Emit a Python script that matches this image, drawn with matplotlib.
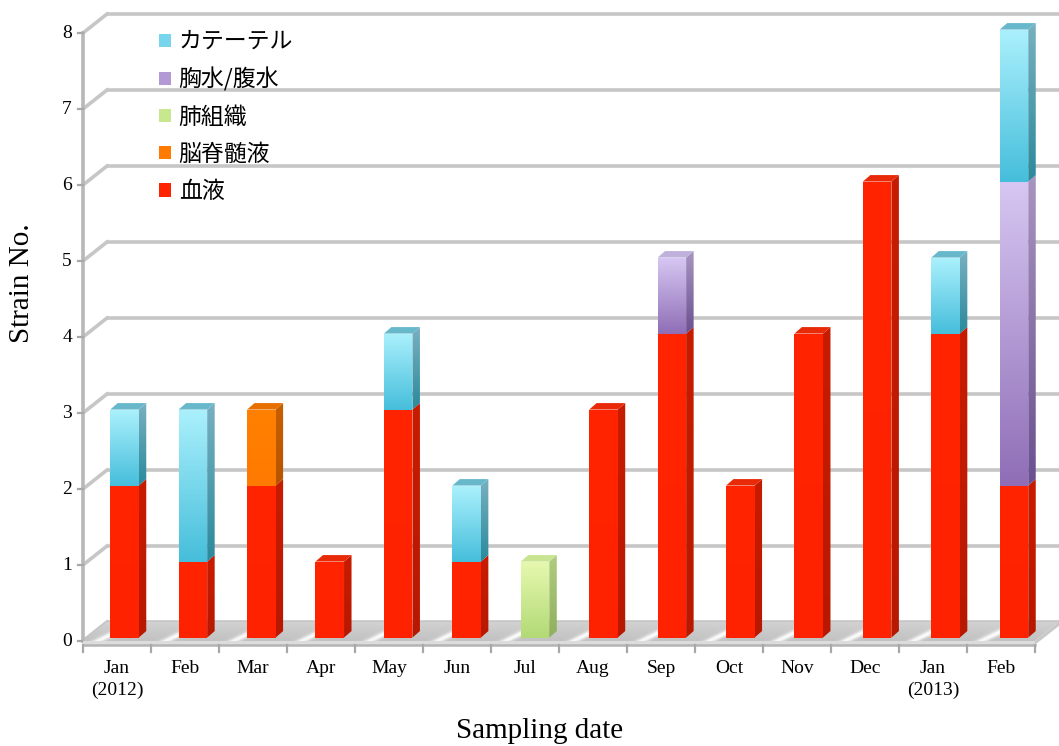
import numpy as np
import matplotlib
matplotlib.use("Agg")
import matplotlib.pyplot as plt
from matplotlib.patches import Polygon, Patch
from matplotlib.colors import to_rgb

# ---- data -------------------------------------------------------------
months = ["Jan\n(2012)", "Feb", "Mar", "Apr", "May", "Jun", "Jul",
          "Aug", "Sep", "Oct", "Nov", "Dec", "Jan\n(2013)", "Feb"]
blood = [2, 1, 2, 1, 3, 1, 0, 3, 4, 2, 4, 6, 4, 2]          # 血液
csf = [0, 0, 1, 0, 0, 0, 0, 0, 0, 0, 0, 0, 0, 0]            # 脳脊髄液
lung = [0, 0, 0, 0, 0, 0, 1, 0, 0, 0, 0, 0, 0, 0]           # 肺組織
pleural = [0, 0, 0, 0, 0, 0, 0, 0, 1, 0, 0, 0, 0, 4]        # 胸水/腹水
catheter = [1, 2, 0, 0, 1, 1, 0, 0, 0, 0, 0, 0, 1, 2]       # カテーテル
series_names = ["血液", "脳脊髄液", "肺組織", "胸水/腹水", "カテーテル"]
y_ticks = [0, 1, 2, 3, 4, 5, 6, 7, 8]

series = [blood, csf, lung, pleural, catheter]

# face colours: (front top, front bottom, side top, side bottom, top)
styles = [
    ("#ff2400", "#ff2200", "#c81c00", "#b81800", "#e82a08"),
    ("#ff8000", "#ff7a00", "#c86000", "#b85400", "#e87000"),
    ("#e6f8ae", "#b2da76", "#b0cc80", "#90b05c", "#c8e490"),
    ("#d6c6f2", "#8f6eb6", "#a894c0", "#6a5090", "#c0b0dc"),
    ("#aaf0fc", "#46bedb", "#78b0c0", "#2a8a9c", "#68b8cc"),
]
legend_colors = ["#ff2400", "#ff7a00", "#c8e890", "#b49ad4", "#78d6ec"]

CJK = ["Noto Sans CJK JP", "DejaVu Sans"]
SERIF = ["Liberation Serif", "DejaVu Serif"]

fig = plt.figure(figsize=(10.59, 7.46), dpi=100)
ax = fig.add_axes([0, 0, 1, 1])
ax.set_axis_off()

# pixel-calibrated data frame: one category = 68 px, one unit = 76 px
XL, XR = -83 / 68, (1059 - 83) / 68
YB, YT = -(746 - 641) / 76, 641 / 76
GX, GY = 24 / 68, 19 / 76            # depth of the walls
BX, BY = 7.5 / 68, 6.5 / 76          # depth of each bar
BAR_W = 0.42
BASE = 0.045
n = len(months)


def grad_poly(verts, top, bot, zorder):
    poly = Polygon(verts, closed=True, facecolor="none", edgecolor="none",
                   zorder=zorder)
    ax.add_patch(poly)
    xs = [v[0] for v in verts]
    ys = [v[1] for v in verts]
    t = np.linspace(0, 1, 64)[:, None, None]
    arr = np.array(to_rgb(bot))[None, None, :] * (1 - t) + \
        np.array(to_rgb(top))[None, None, :] * t
    im = ax.imshow(arr, extent=(min(xs), max(xs), min(ys), max(ys)),
                   origin="lower", aspect="auto", interpolation="bilinear",
                   zorder=zorder)
    im.set_clip_path(poly)


# ---- walls and grid -----------------------------------------------------
grid_c = "#c6c6c6"
for k in y_ticks:
    ax.plot([GX, n + GX], [k + GY, k + GY], color=grid_c, lw=2.6,
            solid_capstyle="butt", zorder=1)
    ax.plot([0, GX], [k, k + GY], color=grid_c, lw=2.6, zorder=1)
ax.plot([0, 0], [0, y_ticks[-1]], color="#b8b8b8", lw=2.6, zorder=2)
for k in y_ticks:
    ax.plot([-5 / 68, 0], [k, k], color="#a8a8a8", lw=1.6, zorder=2)
    ax.text(-11 / 68, k, str(k), ha="right", va="center", fontsize=14,
            family=SERIF, color="black")

# floor with soft diagonal sheen between bars
floor = [(0, 0.0), (n, 0.0), (n + GX, GY), (GX, GY)]
fp = Polygon(floor, closed=True, facecolor="none", edgecolor="none", zorder=2)
ax.add_patch(fp)
xx = np.linspace(0, n + GX, 1400)
yy = np.linspace(0, GY, 30)
X, Y = np.meshgrid(xx, yy)
U = X - (Y / GY) * GX * 1.6
d = (U - np.floor(U)) - 0.22
shade = 0.76 + 0.22 * np.exp(-(d / 0.09) ** 2) + 0.06 * (Y / GY)
floor_img = np.clip(np.dstack([shade, shade, shade]), 0, 1)
im = ax.imshow(floor_img, extent=(0, n + GX, 0, GY), origin="lower",
               aspect="auto", interpolation="bilinear", zorder=2)
im.set_clip_path(fp)
ax.add_patch(Polygon([(0, -0.05), (n, -0.05), (n, 0.0), (0, 0.0)],
                     closed=True, facecolor="#dcdcdc", edgecolor="none",
                     zorder=2))
ax.add_patch(Polygon([(n, -0.05), (n + GX, GY - 0.05), (n + GX, GY), (n, 0.0)],
                     closed=True, facecolor="#c8c8c8", edgecolor="none",
                     zorder=2))
ax.plot([0, n], [-0.05, -0.05], color="#b4b4b4", lw=1.8, zorder=3)
for i in range(n + 1):
    ax.plot([i, i], [-0.05, -0.14], color="#a8a8a8", lw=1.6, zorder=3)

# ---- stacked 3-D bars ----------------------------------------------------
for i in range(n):
    c = i + 0.61 + 0.0062 * i
    xl, xr = c - BAR_W / 2, c + BAR_W / 2
    bottom = 0
    total = sum(s[i] for s in series)
    for s, (ft, fb, st, sb, tc) in zip(series, styles):
        v = s[i]
        if v == 0:
            continue
        y0 = BASE + bottom
        y1 = BASE + bottom + v
        grad_poly([(xl, y0), (xr, y0), (xr, y1), (xl, y1)], ft, fb, 5)
        grad_poly([(xr, y0), (xr + BX, y0 + BY), (xr + BX, y1 + BY), (xr, y1)],
                  st, sb, 5)
        bottom += v
        if bottom == total:
            ax.add_patch(Polygon([(xl, y1), (xl + BX, y1 + BY),
                                  (xr + BX, y1 + BY), (xr, y1)],
                                 closed=True, facecolor=tc, edgecolor="none",
                                 zorder=6))

# ---- category labels and titles ----------------------------------------
for i, lab in enumerate(months):
    ax.text(i + 0.5, -0.25, lab, ha="center", va="top", fontsize=14,
            family=SERIF, linespacing=1.32)

ax.text(-61 / 68, (641 - 283) / 76, "Strain No.", rotation=90, ha="center",
        va="center", fontsize=21, family=SERIF)
ax.text((540 - 83) / 68, (641 - 731) / 76, "Sampling date", ha="center",
        va="center", fontsize=21, family=SERIF)

# ---- legend --------------------------------------------------------------
handles = [Patch(facecolor=col, edgecolor="none", label=name)
           for col, name in zip(legend_colors, series_names)]
leg = ax.legend(handles=handles[::-1], loc="upper left",
                bbox_to_anchor=(150 / 1059, 1 - 21 / 746),
                bbox_transform=fig.transFigure, frameon=False,
                prop={"family": CJK, "size": 16.5}, handlelength=0.5,
                handleheight=0.5, handletextpad=0.35, labelspacing=0.62,
                borderaxespad=0)

ax.set_xlim(XL, XR)
ax.set_ylim(YB, YT)
fig.savefig("out.png", dpi=100)
